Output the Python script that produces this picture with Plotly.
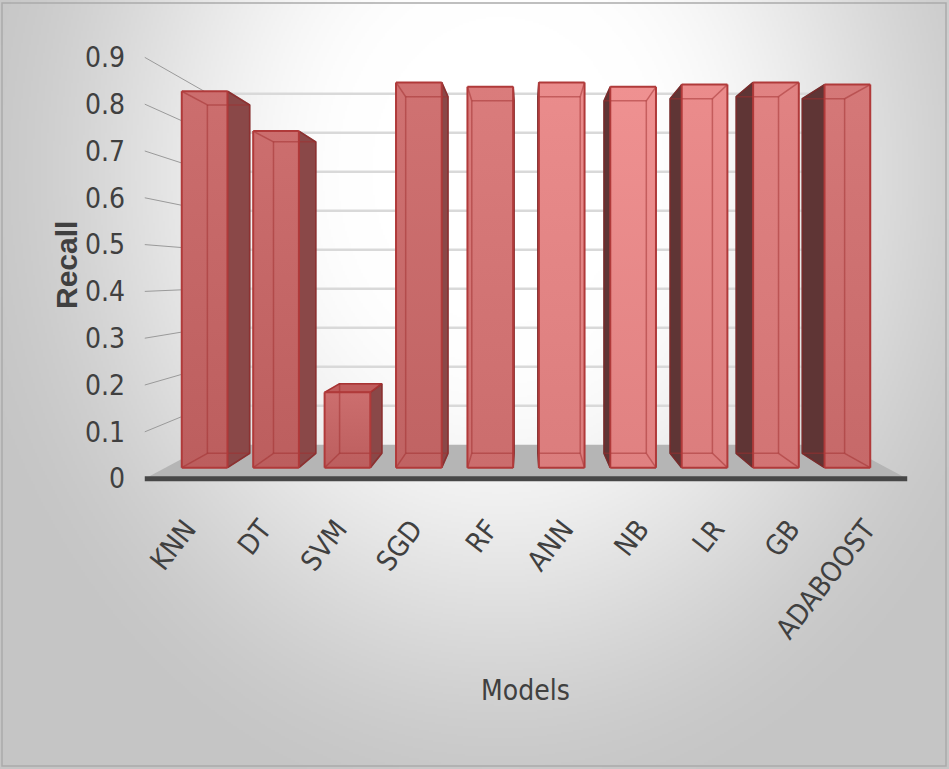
import base64
import struct
import zlib

import numpy as np
import plotly.graph_objects as go

# ---------------------------------------------------------------- data
models = ["KNN", "DT", "SVM", "SGD", "RF", "ANN", "NB", "LR", "GB", "ADABOOST"]
recall = [0.85, 0.76, 0.17, 0.87, 0.86, 0.87, 0.86, 0.865, 0.87, 0.865]
y_ticks = [0, 0.1, 0.2, 0.3, 0.4, 0.5, 0.6, 0.7, 0.8, 0.9]
y_tick_text = ["0", "0.1", "0.2", "0.3", "0.4", "0.5", "0.6", "0.7", "0.8", "0.9"]

# ---------------------------------------------------------------- layout geometry
W, H = 949, 769
M_L, M_R, M_T, M_B = 141, 38, 48, 281
PLOT_W = W - M_L - M_R
PLOT_H = H - M_T - M_B
X_RANGE = [-0.6, 9.6]
Y_RANGE = [-0.02, 0.92]

# pseudo-3D box: floor / walls span, vanishing point and depths
FLOOR_X0, FLOOR_X1 = -0.55, 9.55
VP_X, VP_Y = 4.5, 0.435
Z_FRONT, Z_BACK, Z_WALL = 0.057, 0.142, 0.2
BAR_W = 0.64

FONT = "Liberation Sans Narrow, DejaVu Sans Condensed, Liberation Sans, sans-serif"
TEXT_COLOR = "#404040"

BAR_FRONT = ["#c96565", "#c96565", "#c96565", "#cd6a6a", "#d87474",
             "#e98585", "#ef8a8a", "#ea8585", "#e07c7c", "#d37070"]
SIDE_RIGHT = "#8a4848"   # right-hand faces (bars left of centre)
SIDE_LEFT = "#5f3535"    # left-hand faces (bars right of centre)
TOP_FACE = "#c05c5c"
EDGE = "#b03a3a"
INNER_EDGE = "rgba(160,45,45,0.5)"


def proj(x, y, z):
    """Perspective projection of a point at depth z onto the front plane."""
    f = 1.0 / (1.0 + z)
    return VP_X + (x - VP_X) * f, VP_Y + (y - VP_Y) * f


def poly(points):
    xs, ys = zip(*[proj(*p) for p in points])
    return list(xs) + [xs[0]], list(ys) + [ys[0]]


def px_x(px):
    return (px - M_L) / PLOT_W


def px_y(py):
    return (H - M_B - py) / PLOT_H


# ---------------------------------------------------------------- background gradient
def gradient_png(w, h):
    yy, xx = np.mgrid[0:h, 0:w].astype(float)
    xx *= W / w
    yy *= H / h
    d = np.sqrt(((xx - 500) / 520) ** 2 + ((yy - 170) / 620) ** 2)
    t = np.clip((d - 0.25) / (1.1 - 0.25), 0, 1)
    s = t * t * (3 - 2 * t)
    g = np.clip(255 - 58 * s, 0, 255).astype(np.uint8)
    raw = b"".join(b"\x00" + g[i].tobytes() for i in range(h))

    def chunk(tag, data):
        return (struct.pack(">I", len(data)) + tag + data
                + struct.pack(">I", zlib.crc32(tag + data) & 0xFFFFFFFF))

    png = (b"\x89PNG\r\n\x1a\n"
           + chunk(b"IHDR", struct.pack(">IIBBBBB", w, h, 8, 0, 0, 0, 0))
           + chunk(b"IDAT", zlib.compress(raw, 9))
           + chunk(b"IEND", b""))
    return "data:image/png;base64," + base64.b64encode(png).decode()


fig = go.Figure()


def add_poly(points, fill, line_color=None, width=0, gradient=None):
    xs, ys = poly(points)
    kw = dict(x=xs, y=ys, mode="lines", fill="toself", fillcolor=fill,
              line=dict(color=line_color or fill, width=width),
              hoverinfo="skip", showlegend=False)
    if gradient is not None:
        kw["fillgradient"] = gradient
    fig.add_trace(go.Scatter(**kw))


def add_segments(segs, color, width):
    xs, ys = [], []
    for a, b in segs:
        pa, pb = proj(*a), proj(*b)
        xs += [pa[0], pb[0], None]
        ys += [pa[1], pb[1], None]
    fig.add_trace(go.Scatter(x=xs, y=ys, mode="lines",
                             line=dict(color=color, width=width),
                             hoverinfo="skip", showlegend=False))


# floor top
add_poly([(FLOOR_X0, 0, 0), (FLOOR_X1, 0, 0), (FLOOR_X1, 0, Z_WALL), (FLOOR_X0, 0, Z_WALL)],
         "#b5b5b5")

# back-wall gridlines
add_segments([((FLOOR_X0, t, Z_WALL), (FLOOR_X1, t, Z_WALL)) for t in y_ticks[1:]],
             "#d9d9d9", 2.5)
# side-wall gridlines
add_segments([((FLOOR_X0, t, 0), (FLOOR_X0, t, Z_WALL)) for t in y_ticks[1:]],
             "#9a9a9a", 1)

# floor front edge
add_segments([((FLOOR_X0, 0, 0), (FLOOR_X1, 0, 0))], "#474747", 5)


def hex_shift(c, k):
    r, g, b = int(c[1:3], 16), int(c[3:5], 16), int(c[5:7], 16)
    if k >= 0:
        r, g, b = [int(v + (255 - v) * k) for v in (r, g, b)]
    else:
        r, g, b = [int(v * (1 + k)) for v in (r, g, b)]
    return f"rgb({r},{g},{b})"


# bars
for i, v in enumerate(recall):
    x0, x1 = i - BAR_W / 2, i + BAR_W / 2
    zf, zb = Z_FRONT, Z_BACK

    if x1 < VP_X:
        add_poly([(x1, 0, zf), (x1, v, zf), (x1, v, zb), (x1, 0, zb)],
                 SIDE_RIGHT, "#7a3434", 1.5)
    if x0 > VP_X:
        add_poly([(x0, 0, zf), (x0, v, zf), (x0, v, zb), (x0, 0, zb)],
                 SIDE_LEFT, "#542a2a", 1.5)
    if v < VP_Y:
        add_poly([(x0, v, zf), (x1, v, zf), (x1, v, zb), (x0, v, zb)],
                 TOP_FACE, EDGE, 1.5)

    c = BAR_FRONT[i]
    add_poly([(x0, 0, zf), (x1, 0, zf), (x1, v, zf), (x0, v, zf)], c,
             gradient=dict(type="vertical",
                           colorscale=[[0, hex_shift(c, -0.06)], [1, hex_shift(c, 0.06)]]))

    # back edges seen through the translucent column
    add_segments([
        ((x0, 0, zb), (x1, 0, zb)), ((x0, v, zb), (x1, v, zb)),
        ((x0, 0, zb), (x0, v, zb)), ((x1, 0, zb), (x1, v, zb)),
        ((x0, v, zf), (x0, v, zb)), ((x1, v, zf), (x1, v, zb)),
        ((x0, 0, zf), (x0, 0, zb)), ((x1, 0, zf), (x1, 0, zb)),
    ], INNER_EDGE, 1.5)

    # front outline
    add_segments([
        ((x0, 0, zf), (x1, 0, zf)), ((x1, 0, zf), (x1, v, zf)),
        ((x1, v, zf), (x0, v, zf)), ((x0, v, zf), (x0, 0, zf)),
    ], EDGE, 2)

fig.update_layout(
    width=W, height=H,
    margin=dict(l=M_L, r=M_R, t=M_T, b=M_B, autoexpand=False),
    paper_bgcolor="white",
    plot_bgcolor="rgba(0,0,0,0)",
    showlegend=False,
    font=dict(family=FONT, color=TEXT_COLOR),
    xaxis=dict(range=X_RANGE, tickmode="array", tickvals=list(range(len(models))),
               ticktext=models, tickangle=-52, showgrid=False, zeroline=False,
               showline=False, ticks="", tickfont=dict(size=28, color=TEXT_COLOR),
               ticklabelstandoff=18, automargin=False, fixedrange=True),
    yaxis=dict(range=Y_RANGE, tickmode="array", tickvals=y_ticks, ticktext=y_tick_text,
               showgrid=False, zeroline=False, showline=False, ticks="",
               tickfont=dict(size=28, color=TEXT_COLOR), ticklabelstandoff=15,
               automargin=False, fixedrange=True),
    images=[dict(source=gradient_png(475, 385), xref="paper", yref="paper",
                 x=px_x(0), y=px_y(0), sizex=W / PLOT_W, sizey=H / PLOT_H,
                 xanchor="left", yanchor="top", sizing="stretch", layer="below")],
    shapes=[dict(type="rect", xref="paper", yref="paper",
                 x0=px_x(2), x1=px_x(946), y0=px_y(3), y1=px_y(766),
                 line=dict(color="#ababab", width=1.5), fillcolor="rgba(0,0,0,0)")],
    annotations=[
        dict(text="<b>Recall</b>", xref="paper", yref="paper", x=px_x(66), y=px_y(265),
             xanchor="center", yanchor="middle", textangle=-90, showarrow=False,
             font=dict(size=30, color=TEXT_COLOR, family="Liberation Sans, Arial, sans-serif")),
        dict(text="Models", xref="paper", yref="paper", x=px_x(525), y=px_y(690),
             xanchor="center", yanchor="middle", showarrow=False,
             font=dict(size=28, color=TEXT_COLOR)),
    ],
)

fig.write_html("out.html")
